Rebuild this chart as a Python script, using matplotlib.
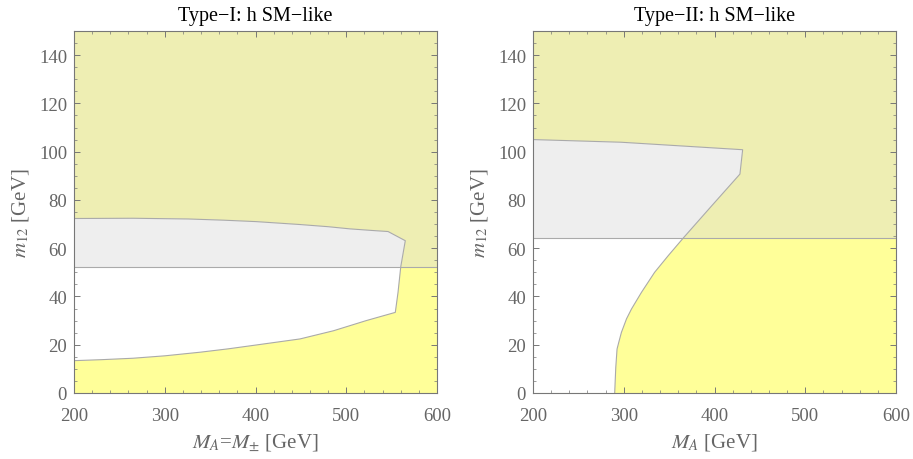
import matplotlib
matplotlib.use('Agg')
import matplotlib.pyplot as plt
from matplotlib.patches import Rectangle
from matplotlib.ticker import MultipleLocator

plt.rcParams['font.family'] = 'serif'
plt.rcParams['font.serif'] = ['Liberation Serif', 'DejaVu Serif']
plt.rcParams['mathtext.fontset'] = 'stix'

# Type-I allowed region boundary (MA, m12)
t1_x = [200, 265, 326, 365, 401, 449, 480, 504, 530, 546, 565, 560, 557, 554,
        522, 486, 449, 401, 370, 339, 300, 265, 230, 200]
t1_y = [72.3, 72.4, 72.1, 71.6, 71.0, 69.8, 68.9, 68.0, 67.3, 66.9, 63.1, 52.3, 41.7, 33.4,
        30.0, 25.8, 22.4, 19.9, 18.3, 16.9, 15.4, 14.4, 13.8, 13.4]
t1_cut = 52.3

# Type-II allowed region boundary
t2_x = [200, 297, 431, 428, 397, 366, 349, 334, 319.5, 308.5, 303, 297.4,
        294.5, 292.6, 291.2, 290, 200]
t2_y = [105.0, 103.9, 100.8, 90.7, 77.6, 64.4, 56.9, 50.0, 41.7, 34.8, 30.7, 25.1,
        21.0, 18.2, 10.6, 0, 0]
t2_cut = 64.4

titles = ['Type\u2212I: h SM\u2212like', 'Type\u2212II: h SM\u2212like']
xlabels = [r'$M_A$=$M_{\pm}$ [GeV]', r'$M_A$ [GeV]']

col_up = '#eeeeb3'
col_low = '#ffff99'
col_gray = '#eeeeee'
col_edge = '#aaaaaa'
col_text = '#666666'

fig = plt.figure(figsize=(9.13, 4.6), dpi=100)
ax1 = fig.add_axes([0.0811, 0.1435, 0.3976, 0.787])
ax2 = fig.add_axes([0.5838, 0.1435, 0.3976, 0.787])

for ax, xs, ys, cut, title, xl, nedge in [
        (ax1, t1_x, t1_y, t1_cut, titles[0], xlabels[0], len(t1_x)),
        (ax2, t2_x, t2_y, t2_cut, titles[1], xlabels[1], len(t2_x) - 1)]:
    ax.set_xlim(200, 600)
    ax.set_ylim(0, 150)
    ax.axhspan(cut, 150, color=col_up, lw=0, zorder=0)
    ax.axhspan(0, cut, color=col_low, lw=0, zorder=0)
    ax.fill(xs, ys, color='white', lw=0, zorder=1)
    g = ax.fill(xs, ys, color=col_gray, lw=0, zorder=2)[0]
    g.set_clip_path(Rectangle((200, cut), 400, 150 - cut, transform=ax.transData))
    ax.plot(xs[:nedge], ys[:nedge], color=col_edge, lw=0.8, zorder=3)
    ax.axhline(cut, color=col_edge, lw=0.8, zorder=3)

    ax.set_title(title, fontsize=14.5, color='black', pad=8)
    ax.set_xlabel(xl, fontsize=15, color=col_text, labelpad=5)
    ax.set_ylabel(r'$m_{12}$ [GeV]', fontsize=15, color=col_text, labelpad=6)
    ax.xaxis.set_major_locator(MultipleLocator(100))
    ax.xaxis.set_minor_locator(MultipleLocator(20))
    ax.yaxis.set_major_locator(MultipleLocator(20))
    ax.yaxis.set_minor_locator(MultipleLocator(5))
    ax.tick_params(which='both', direction='in', top=True, right=True,
                   color='#777777', labelcolor=col_text, labelsize=13.5)
    ax.tick_params(which='major', length=4, width=0.7)
    ax.tick_params(axis='x', which='major', pad=10)
    ax.tick_params(axis='y', which='major', pad=5)
    ax.tick_params(which='minor', length=2, width=0.5)
    for s in ax.spines.values():
        s.set_color('#777777')
        s.set_linewidth(0.8)
        s.set_zorder(5)

fig.savefig('out.png', dpi=100)
